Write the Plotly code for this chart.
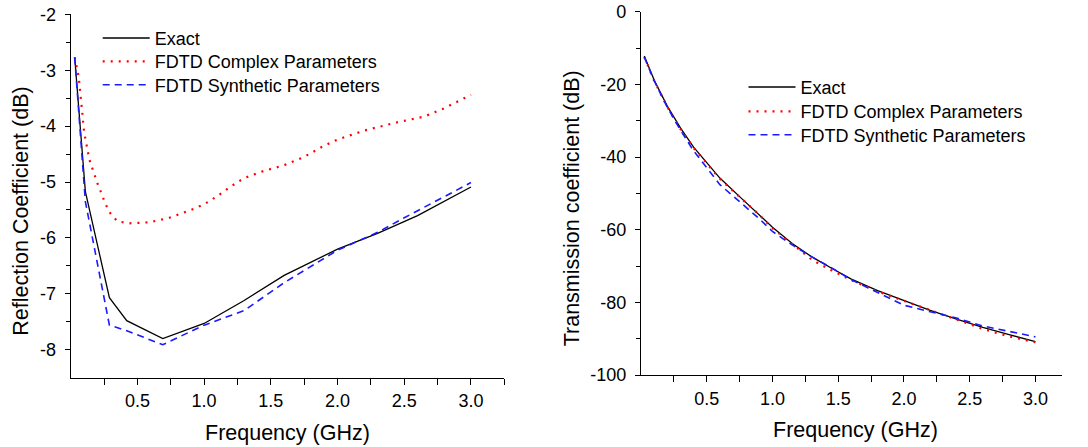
import plotly.graph_objects as go

# Figure fills the whole 1088x447 window (the page's default body margin is removed below)
WIN_W, WIN_H = 1088, 447
OFF = 0
FW, FH = WIN_W - OFF, WIN_H - OFF
FONT = "Arial, 'Liberation Sans', sans-serif"


def px(X):
    return (X - OFF) / FW


def py(Y):
    return 1 - (Y - OFF) / FH


# ---------------- Left panel: reflection coefficient ----------------
refl_exact_f = [0.03, 0.11, 0.29, 0.42, 0.69, 1.0, 1.3, 1.6, 2.0, 2.3, 2.6, 3.0]
refl_exact_db = [-2.77, -5.17, -7.07, -7.48, -7.80, -7.53, -7.12, -6.67, -6.20, -5.92, -5.60, -5.09]

refl_complex_f = [0.03, 0.06, 0.08, 0.10, 0.14, 0.17, 0.20, 0.23, 0.26, 0.30, 0.35, 0.43,
                  0.59, 0.74, 0.89, 1.0, 1.1, 1.2, 1.3, 1.45, 1.6, 1.75, 1.9, 2.0,
                  2.2, 2.45, 2.65, 2.8, 3.0]
refl_complex_db = [-2.77, -3.12, -3.60, -4.10, -4.60, -4.83, -5.02, -5.20, -5.39, -5.57, -5.70, -5.74,
                   -5.72, -5.64, -5.51, -5.40, -5.25, -5.08, -4.93, -4.80, -4.70, -4.55, -4.35, -4.24,
                   -4.08, -3.93, -3.83, -3.68, -3.44]

refl_synth_f = [0.03, 0.11, 0.29, 0.42, 0.69, 1.0, 1.3, 1.6, 2.0, 2.3, 2.5, 2.75, 3.0]
refl_synth_db = [-2.77, -5.35, -7.56, -7.66, -7.91, -7.56, -7.30, -6.80, -6.22, -5.90, -5.64, -5.32, -5.01]

# ---------------- Right panel: transmission coefficient ----------------
trans_f = [0.025, 0.1, 0.2, 0.3, 0.4, 0.5, 0.6, 0.75, 0.9, 1.0, 1.15, 1.3, 1.45, 1.6,
           1.8, 2.0, 2.2, 2.4, 2.6, 2.8, 3.0]
trans_exact_db = [-12.2, -18.8, -26.0, -32.0, -37.3, -41.7, -45.8, -50.9, -55.8, -59.3, -63.8,
                  -67.5, -70.6, -73.6, -76.8, -79.5, -82.2, -84.6, -86.9, -88.9, -90.8]
trans_complex_db = [-12.5, -19.0, -26.2, -32.3, -37.5, -41.8, -46.0, -51.0, -55.9, -59.6, -64.0,
                    -68.3, -71.2, -73.9, -77.0, -79.6, -82.3, -84.8, -87.3, -89.4, -91.0]
trans_synth_db = [-12.5, -19.0, -26.3, -32.6, -38.3, -43.1, -47.6, -52.3, -57.0, -60.5, -64.2,
                  -67.5, -70.5, -73.8, -77.3, -80.8, -82.6, -84.3, -86.5, -88.0, -89.5]

series_names = ["Exact", "FDTD Complex Parameters", "FDTD Synthetic Parameters"]

# tick labels
x_tickvals = [0.5, 1.0, 1.5, 2.0, 2.5, 3.0]
x_ticktext = ["0.5", "1.0", "1.5", "2.0", "2.5", "3.0"]
left_y_tickvals = [-8, -7, -6, -5, -4, -3, -2]
left_y_ticktext = ["-8", "-7", "-6", "-5", "-4", "-3", "-2"]
right_y_tickvals = [-100, -80, -60, -40, -20, 0]
right_y_ticktext = ["-100", "-80", "-60", "-40", "-20", "0"]

styles = [
    dict(color="black", width=1.3),
    dict(color="#ff0000", width=2.2, dash="2px,6px"),
    dict(color="#1a1aff", width=1.6, dash="7px,5px"),
]

# one legend per row so the row spacing matches the reference
left_legends = ["legend", "legend2", "legend3"]
right_legends = ["legend4", "legend5", "legend6"]

fig = go.Figure()
left_data = [(refl_exact_f, refl_exact_db), (refl_complex_f, refl_complex_db), (refl_synth_f, refl_synth_db)]
for (fx, fy), name, st, lg in zip(left_data, series_names, styles, left_legends):
    fig.add_trace(go.Scatter(x=fx, y=fy, mode="lines", name=name, line=st,
                             xaxis="x", yaxis="y", legend=lg))
right_data = [trans_exact_db, trans_complex_db, trans_synth_db]
for fy, name, st, lg in zip(right_data, series_names, styles, right_legends):
    fig.add_trace(go.Scatter(x=trans_f, y=fy, mode="lines", name=name, line=st,
                             xaxis="x2", yaxis="y2", legend=lg))

axis_common = dict(showline=True, linecolor="black", linewidth=1.3, ticks="outside",
                   ticklen=5, tickwidth=1.3, tickcolor="black", showgrid=False,
                   zeroline=False, automargin=False, ticklabeloverflow="allow",
                   tickfont=dict(size=18, color="black", family=FONT),
                   tickmode="array")

minor_common = dict(ticks="outside", ticklen=5, tickwidth=1.3, tickcolor="black",
                    tickmode="array", showgrid=False)


def legend_box(X, Y):
    return dict(x=px(X), y=py(Y), xanchor="left", yanchor="top",
                bgcolor="rgba(0,0,0,0)", font=dict(size=18, family=FONT, color="black"),
                itemwidth=47, tracegroupgap=0)


legend_layout = {}
for lg, top in zip(left_legends, [19.8, 43.2, 66.5]):
    legend_layout[lg] = legend_box(97.7, top)
for lg, top in zip(right_legends, [68.8, 93.2, 116.5]):
    legend_layout[lg] = legend_box(743.5, top)

fig.update_layout(
    template="none",
    width=FW, height=FH,
    margin=dict(l=0, r=0, t=0, b=0, autoexpand=False),
    paper_bgcolor="white", plot_bgcolor="white",
    font=dict(family=FONT, size=18, color="black"),
    xaxis=dict(axis_common, domain=[px(70.7), px(504.3)], anchor="y", range=[0, 3.25],
               tickvals=x_tickvals, ticktext=x_ticktext, ticklen=6, ticklabelstandoff=1,
               minor=dict(minor_common, ticklen=6,
                          tickvals=[0.25, 0.75, 1.25, 1.75, 2.25, 2.75, 3.25])),
    yaxis=dict(axis_common, domain=[py(377.7), py(14.3)], anchor="x", range=[-8.5, -2],
               tickvals=left_y_tickvals, ticktext=left_y_ticktext, ticklabelstandoff=5,
               minor=dict(minor_common, ticklen=4, tickvals=[-7.5, -6.5, -5.5, -4.5, -3.5, -2.5])),
    xaxis2=dict(axis_common, domain=[px(641), px(1061.7)], anchor="y2", range=[0, 3.2],
                tickvals=x_tickvals, ticktext=x_ticktext, ticklen=6, ticklabelstandoff=1,
                minor=dict(minor_common, ticklen=6,
                           tickvals=[0.25, 0.75, 1.25, 1.75, 2.25, 2.75])),
    yaxis2=dict(axis_common, domain=[py(375), py(11.7)], anchor="x2", range=[-100, 0],
                tickvals=right_y_tickvals, ticktext=right_y_ticktext, ticklabelstandoff=5,
                minor=dict(minor_common, ticklen=4, tickvals=[-90, -70, -50, -30, -10])),
    showlegend=True,
    annotations=[
        dict(text="Reflection Coefficient (dB)", x=px(20.7), y=py(211), xref="paper", yref="paper",
             textangle=-90, showarrow=False, xanchor="center", yanchor="middle",
             font=dict(size=21.5, family=FONT)),
        dict(text="Frequency (GHz)", x=px(287), y=py(433), xref="paper", yref="paper",
             showarrow=False, xanchor="center", yanchor="middle", font=dict(size=21.5, family=FONT)),
        dict(text="Transmission coefficient (dB)", x=px(572.3), y=py(208), xref="paper", yref="paper",
             textangle=-90, showarrow=False, xanchor="center", yanchor="middle",
             font=dict(size=21.5, family=FONT)),
        dict(text="Frequency (GHz)", x=px(855), y=py(430), xref="paper", yref="paper",
             showarrow=False, xanchor="center", yanchor="middle", font=dict(size=21.5, family=FONT)),
    ],
    **legend_layout,
)

fig.write_html(
    "out.html",
    config={"displayModeBar": False},
    post_script="document.body.style.margin='0';document.body.style.overflow='hidden';",
)
